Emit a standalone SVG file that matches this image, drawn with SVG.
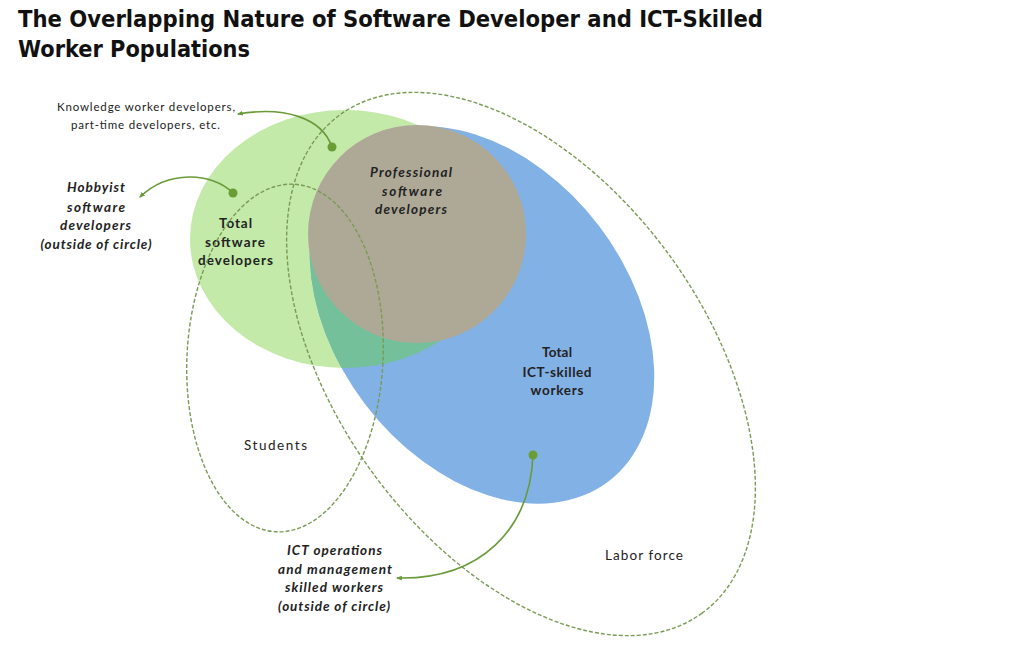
<svg xmlns="http://www.w3.org/2000/svg" width="1024" height="648" viewBox="0 0 1024 648">
<defs>
<style>
.title{font-family:"DejaVu Sans Condensed","DejaVu Sans",Verdana,sans-serif;font-weight:bold;font-size:23px;fill:#111}
.lbl{font-family:Lato,"Open Sans",sans-serif;font-size:13.5px;fill:#222;text-anchor:middle}
.sm{font-size:11.5px}
.it{font-style:italic;font-weight:bold}
.b{font-weight:bold}
.dash{fill:none;stroke:#7a9a55;stroke-width:1.4;stroke-dasharray:4 2}
.conn{fill:none;stroke:#6a9a3a;stroke-width:1.6}
.dot{fill:#6a9e34}
</style>
<marker id="ah" viewBox="0 0 10 10" refX="8" refY="5" markerWidth="6" markerHeight="6" orient="auto-start-reverse" markerUnits="userSpaceOnUse">
<path d="M0,1 L10,5 L0,9 Z" fill="#6a9a3a"/>
</marker>
<clipPath id="blueClip">
<ellipse cx="482" cy="315" rx="209" ry="147" transform="rotate(52.8 482 315)"/>
</clipPath>
</defs>
<rect width="1024" height="648" fill="#fff"/>
<text class="title" x="18" y="27" textLength="745" lengthAdjust="spacingAndGlyphs">The Overlapping Nature of Software Developer and ICT-Skilled</text>
<text class="title" x="18" y="57" textLength="232" lengthAdjust="spacingAndGlyphs">Worker Populations</text>

<g id="total-software-developers">
<ellipse cx="345" cy="239" rx="155" ry="129" fill="#c3eaa9"/>
</g>
<g id="total-ict-skilled-workers">
<ellipse cx="482" cy="315" rx="209" ry="147" transform="rotate(52.8 482 315)" fill="#82b1e6"/>
<ellipse cx="345" cy="239" rx="155" ry="129" fill="#73c09a" clip-path="url(#blueClip)"/>
<text class="lbl b" x="557" y="357" textLength="30">Total</text>
<text class="lbl b" x="557" y="377" textLength="69">ICT-skilled</text>
<text class="lbl b" x="557" y="395" textLength="53">workers</text>
</g>
<g id="professional-software-developers">
<circle cx="417" cy="234" r="109" fill="#aea997"/>
<text class="lbl it" x="411" y="177" textLength="82">Professional</text>
<text class="lbl it" x="412" y="196" textLength="60">software</text>
<text class="lbl it" x="411" y="214" textLength="72">developers</text>
</g>
<g id="total-software-label">
<text class="lbl b" x="235.5" y="228" textLength="33">Total</text>
<text class="lbl b" x="235" y="247" textLength="60">software</text>
<text class="lbl b" x="235.5" y="265" textLength="75">developers</text>
</g>
<g id="students">
<ellipse class="dash" cx="285" cy="358" rx="98" ry="174" transform="rotate(3 285 358)"/>
<text class="lbl" x="275.5" y="450" textLength="63">Students</text>
</g>
<g id="labor-force">
<ellipse class="dash" cx="521" cy="364" rx="308" ry="184" transform="rotate(54 521 364)"/>
<text class="lbl" x="644" y="560" textLength="78">Labor force</text>
</g>
<g id="knowledge-worker">
<text class="lbl sm" x="146" y="111" textLength="178">Knowledge worker developers,</text>
<text class="lbl sm" x="145.5" y="129" textLength="149">part-time developers, etc.</text>
</g>
<g id="hobbyist">
<text class="lbl it" x="96" y="192" textLength="58">Hobbyist</text>
<text class="lbl it" x="96" y="212" textLength="58">software</text>
<text class="lbl it" x="95.5" y="230" textLength="71">developers</text>
<text class="lbl it" x="96" y="249" textLength="111">(outside of circle)</text>
</g>
<g id="ict-operations">
<text class="lbl it" x="334.5" y="555" textLength="95">ICT operations</text>
<text class="lbl it" x="335" y="574" textLength="114">and management</text>
<text class="lbl it" x="334" y="592" textLength="98">skilled workers</text>
<text class="lbl it" x="334" y="611" textLength="112">(outside of circle)</text>
</g>
<g id="connectors">
<path class="conn" d="M332,147 C322,118 285,106 238,114" marker-end="url(#ah)"/>
<circle class="dot" cx="332" cy="147" r="4.5"/>
<path class="conn" d="M233,193 C212,172 168,170 140,197" marker-end="url(#ah)"/>
<circle class="dot" cx="233" cy="193" r="4.5"/>
<path class="conn" d="M533,455 C530,530 480,580 397,578" marker-end="url(#ah)"/>
<circle class="dot" cx="533" cy="455" r="4.5"/>
</g>
</svg>
